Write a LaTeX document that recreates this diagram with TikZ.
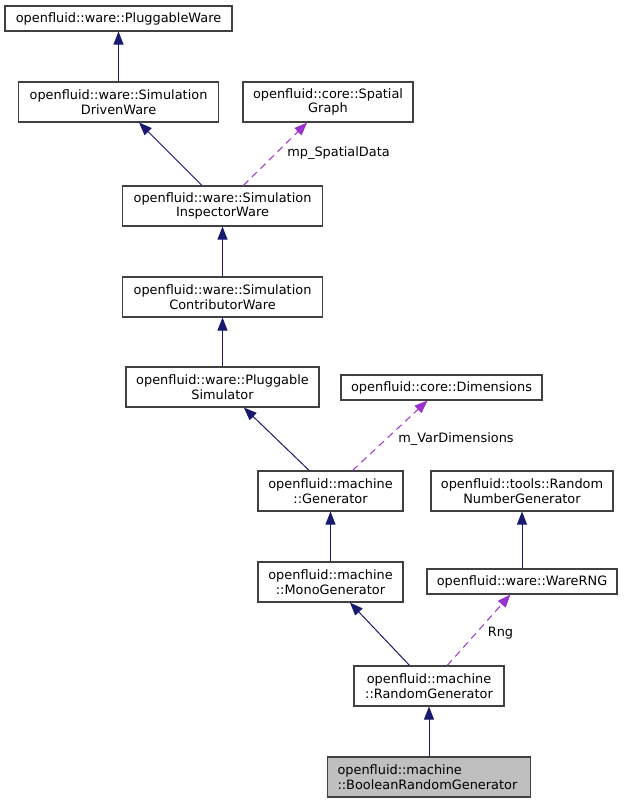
\documentclass[tikz,border=0pt]{standalone}
\usepackage{fontspec}
\setmainfont{DejaVu Sans}
\usetikzlibrary{arrows.meta}
\definecolor{edgeblue}{HTML}{191970}
\definecolor{edgepurple}{HTML}{9A32CD}
\definecolor{boxgray}{HTML}{404040}
\definecolor{hlfill}{HTML}{BFBFBF}
\begin{document}
\begin{tikzpicture}[x=1pt,y=-1pt,
  every node/.style={font=\fontsize{12.9}{14.4}\selectfont},
  cls/.style={draw=boxgray, line width=1.1pt, fill=white, inner sep=0pt, align=center},
  hl/.style={cls, fill=hlfill, align=left},
  inh/.style={draw=edgeblue, line width=1pt, -{Triangle[length=13pt,width=10pt]}},
  use/.style={draw=edgepurple, line width=1pt, dash pattern=on 7pt off 5pt, -{Triangle[length=13pt,width=10pt]}},
  lbl/.style={inner sep=0pt}]
\useasboundingbox (0,0) rectangle (628,803);
\node[cls, minimum width=227pt, minimum height=25pt] (pw)  at (118.5,18.5) {openfluid::ware::PluggableWare};
\node[cls, minimum width=200pt, minimum height=40pt] (sdw) at (118.5,102) {openfluid::ware::Simulation\\DrivenWare};
\node[cls, minimum width=170pt, minimum height=40pt] (sg)  at (328,102) {openfluid::core::Spatial\\Graph};
\node[cls, minimum width=200pt, minimum height=40pt] (siw) at (222.5,206) {openfluid::ware::Simulation\\InspectorWare};
\node[cls, minimum width=200pt, minimum height=40pt] (scw) at (222.5,297) {openfluid::ware::Simulation\\ContributorWare};
\node[cls, minimum width=193pt, minimum height=40pt] (ps)  at (222.5,387) {openfluid::ware::Pluggable\\Simulator};
\node[cls, minimum width=201pt, minimum height=25pt] (dim) at (441.5,387.5) {openfluid::core::Dimensions};
\node[cls, minimum width=145pt, minimum height=40pt] (gen) at (330.5,491) {openfluid::machine\\::Generator};
\node[cls, minimum width=182pt, minimum height=40pt] (rng) at (522,491) {openfluid::tools::Random\\NumberGenerator};
\node[cls, minimum width=145pt, minimum height=40pt] (mono) at (330.5,582) {openfluid::machine\\::MonoGenerator};
\node[cls, minimum width=190pt, minimum height=25pt] (wrng) at (522,581.5) {openfluid::ware::WareRNG};
\node[cls, minimum width=150pt, minimum height=40pt] (rg)  at (429,686) {openfluid::machine\\::RandomGenerator};
\node[hl, minimum width=203pt, minimum height=40pt, text width=183pt] (brg) at (429,777) {openfluid::machine\\::BooleanRandomGenerator};

\draw[inh] (sdw) -- (pw);
\draw[inh] (siw) -- (sdw);
\draw[use] (siw) -- (sg);
\draw[inh] (scw) -- (siw);
\draw[inh] (ps) -- (scw);
\draw[inh] (gen) -- (ps);
\draw[use] (gen) -- (dim);
\draw[inh] (mono) -- (gen);
\draw[inh] (wrng) -- (rng);
\draw[inh] (rg) -- (mono);
\draw[use] (rg) -- (wrng);
\draw[inh] (brg) -- (rg);

\node[lbl] (l1) at (338.5,153) {mp\_SpatialData};
\node[lbl] (l2) at (456,439) {m\_VarDimensions};
\node[lbl] (l3) at (500.5,633) {Rng};
\end{tikzpicture}
\end{document}
